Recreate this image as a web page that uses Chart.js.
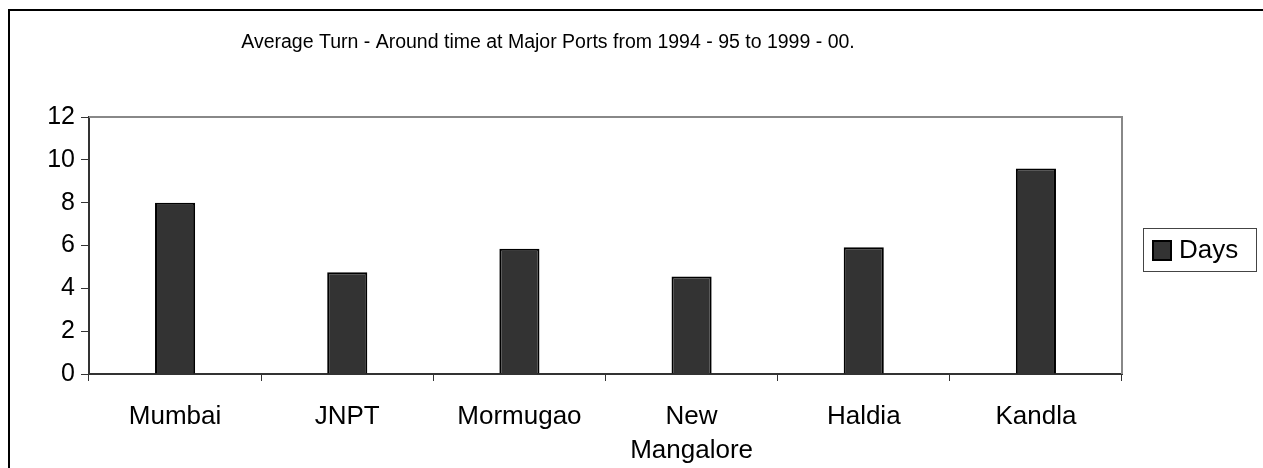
<!DOCTYPE html>
<html>
<head>
<meta charset="utf-8">
<script src="https://cdn.jsdelivr.net/npm/chart.js@4.4.1/dist/chart.umd.min.js"></script>
<style>
html,body{margin:0;padding:0;background:#fff;}
#wrap{width:1263px;height:468px;position:relative;}
canvas{display:block;}
</style>
</head>
<body>
<div id="wrap"><canvas id="c" width="1263" height="468"></canvas></div>
<script>
const titleText = 'Average Turn - Around time at Major Ports from 1994 - 95 to 1999 - 00.';
const categories = ['Mumbai', 'JNPT', 'Mormugao', ['New', 'Mangalore'], 'Haldia', 'Kandla'];
const seriesName = 'Days';
const days = [8.0, 4.75, 5.85, 4.55, 5.92, 9.6];
const yTicks = [0, 2, 4, 6, 8, 10, 12];

const FONT = '"Liberation Sans", Arial, sans-serif';

const decor = {
  id: 'decor',
  beforeDraw(chart) {
    const ctx = chart.ctx;
    ctx.save();
    ctx.fillStyle = '#fff';
    ctx.fillRect(0, 0, chart.width, chart.height);
    ctx.restore();
  },
  afterDraw(chart) {
    const ctx = chart.ctx;
    const a = chart.chartArea;
    ctx.save();
    // outer chart border
    ctx.strokeStyle = '#000';
    ctx.lineWidth = 2;
    ctx.beginPath();
    ctx.moveTo(9, chart.height + 2);
    ctx.lineTo(9, 10);
    ctx.lineTo(chart.width + 2, 10);
    ctx.stroke();
    // plot area top/right border
    ctx.strokeStyle = '#888';
    ctx.lineWidth = 2;
    ctx.beginPath();
    ctx.moveTo(a.left, a.top);
    ctx.lineTo(a.right, a.top);
    ctx.lineTo(a.right, a.bottom);
    ctx.stroke();
    // title
    ctx.fillStyle = '#000';
    ctx.font = '19.5px ' + FONT;
    ctx.textAlign = 'center';
    ctx.textBaseline = 'middle';
    ctx.fillText(titleText, 548, 43);
    // legend
    const ds = chart.data.datasets[0];
    ctx.strokeStyle = '#444';
    ctx.lineWidth = 1;
    ctx.fillStyle = '#fff';
    ctx.fillRect(1143, 228, 113, 43);
    ctx.strokeRect(1143.5, 228.5, 113, 43);
    ctx.fillStyle = ds.backgroundColor;
    ctx.fillRect(1152, 240, 20, 21);
    ctx.strokeStyle = ds.borderColor;
    ctx.lineWidth = 2;
    ctx.strokeRect(1153, 241, 18, 19);
    ctx.fillStyle = '#000';
    ctx.font = '26px ' + FONT;
    ctx.textAlign = 'left';
    ctx.textBaseline = 'middle';
    ctx.fillText(ds.label, 1179, 251);
    ctx.restore();
  }
};

new Chart(document.getElementById('c'), {
  type: 'bar',
  data: {
    labels: categories,
    datasets: [{
      label: seriesName,
      data: days,
      backgroundColor: '#333333',
      borderColor: '#000000',
      borderWidth: 2,
      categoryPercentage: 1.0,
      barPercentage: 0.233
    }]
  },
  options: {
    responsive: false,
    animation: false,
    devicePixelRatio: 1,
    layout: { padding: { left: 0, right: 141, top: 117, bottom: 0 } },
    plugins: {
      legend: { display: false },
      title: { display: false },
      tooltip: { enabled: false }
    },
    scales: {
      x: {
        offset: true,
        grid: {
          display: true,
          offset: true,
          drawOnChartArea: false,
          drawTicks: true,
          tickLength: 7,
          color: '#333',
          lineWidth: 1
        },
        border: { display: true, color: '#333', width: 2 },
        ticks: {
          color: '#000',
          font: { family: FONT, size: 26, lineHeight: 1.31 },
          padding: 19,
          maxRotation: 0,
          autoSkip: false
        },
        afterFit(scale) { scale.height = 94; }
      },
      y: {
        min: 0,
        max: 12,
        afterBuildTicks(scale) { scale.ticks = yTicks.map(v => ({ value: v })); },
        grid: {
          display: true,
          drawOnChartArea: false,
          drawTicks: true,
          tickLength: 8,
          color: '#333',
          lineWidth: 1
        },
        border: { display: true, color: '#333', width: 2 },
        ticks: {
          color: '#000',
          font: { family: FONT, size: 25 },
          padding: 6
        },
        afterFit(scale) { scale.width = 89; }
      }
    }
  },
  plugins: [decor]
});
</script>
</body>
</html>
